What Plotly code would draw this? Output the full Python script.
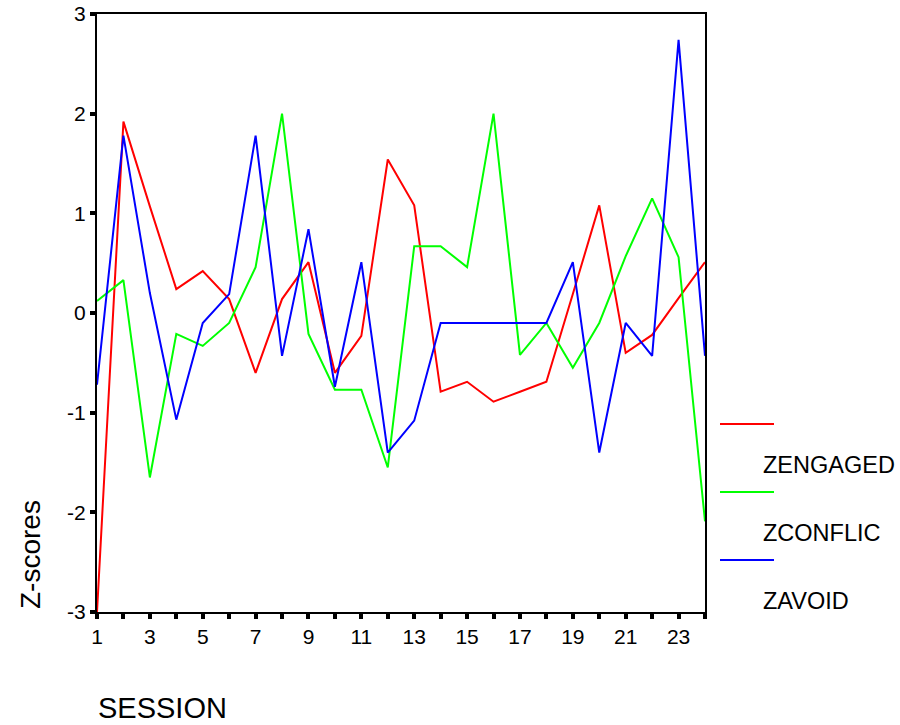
import plotly.graph_objects as go

# Session numbers and standardized scores for each measure
sessions = list(range(1, 25))
zengaged = [-3.00, 1.92, 1.07, 0.24, 0.42, 0.14, -0.60, 0.14, 0.51, -0.60, -0.23, 1.54,
            1.08, -0.79, -0.69, -0.89, -0.79, -0.69, 0.19, 1.08, -0.40, -0.22, 0.15, 0.51]
zconflic = [0.12, 0.33, -1.65, -0.21, -0.33, -0.10, 0.46, 2.00, -0.21, -0.77, -0.77, -1.55,
            0.67, 0.67, 0.46, 2.00, -0.42, -0.10, -0.55, -0.10, 0.57, 1.15, 0.56, -2.09]
zavoid = [-0.72, 1.78, 0.20, -1.07, -0.10, 0.19, 1.78, -0.43, 0.84, -0.74, 0.51, -1.40,
          -1.08, -0.10, -0.10, -0.10, -0.10, -0.10, 0.51, -1.40, -0.10, -0.43, 2.74, -0.43]

series_names = ["ZENGAGED", "ZCONFLIC", "ZAVOID"]
series_values = [zengaged, zconflic, zavoid]
series_colors = ["#ff0000", "#00ff00", "#0000ff"]

x_tick_vals = sessions
x_tick_text = [str(s) if s % 2 == 1 else "" for s in sessions]
y_tick_vals = [-3, -2, -1, 0, 1, 2, 3]

# Page / plot geometry in pixels
W, H = 900, 725
L, R, T, B = 97, 195, 14, 113
PW, PH = W - L - R, H - T - B


def px(x):
    return (x - L) / PW


def py(y):
    return (H - B - y) / PH


FONT = "Liberation Sans, Arial, sans-serif"

fig = go.Figure()
for name, vals, col in zip(series_names, series_values, series_colors):
    fig.add_trace(go.Scatter(x=sessions, y=vals, mode="lines", name=name,
                             line=dict(color=col, width=2), showlegend=False))

axis_common = dict(showgrid=False, zeroline=False, showline=True, linecolor="black",
                   linewidth=2, mirror=True, ticks="outside", ticklen=5, tickwidth=4,
                   tickcolor="black", automargin=False,
                   tickfont=dict(family=FONT, size=21, color="black"))

fig.update_xaxes(range=[1, 24], tickmode="array", tickvals=x_tick_vals,
                 ticktext=x_tick_text, **axis_common)
fig.update_yaxes(range=[-3, 3], tickmode="array", tickvals=y_tick_vals,
                 ticktext=[str(v) for v in y_tick_vals], **axis_common)

annotations = [
    dict(text="SESSION", x=px(96), y=py(708), xref="paper", yref="paper",
         xanchor="left", yanchor="middle", showarrow=False,
         font=dict(family=FONT, size=29, color="black")),
    dict(text="Z-scores", x=px(30), y=py(555), xref="paper", yref="paper",
         xanchor="center", yanchor="middle", textangle=-90, showarrow=False,
         font=dict(family=FONT, size=28, color="black")),
]

# Legend: a coloured swatch with its label underneath
shapes = []
legend_line_y = [424, 492, 560]
legend_text_y = [465, 533, 601]
for name, col, ly, ty in zip(series_names, series_colors, legend_line_y, legend_text_y):
    shapes.append(dict(type="line", xref="paper", yref="paper",
                       x0=px(720), x1=px(774), y0=py(ly), y1=py(ly),
                       line=dict(color=col, width=2)))
    annotations.append(dict(text=name, x=px(761), y=py(ty), xref="paper", yref="paper",
                            xanchor="left", yanchor="middle", showarrow=False,
                            font=dict(family=FONT, size=23.5, color="black")))

fig.update_layout(width=W, height=H, margin=dict(l=L, r=R, t=T, b=B),
                  paper_bgcolor="white", plot_bgcolor="white",
                  annotations=annotations, shapes=shapes)

fig.write_html("out.html")
